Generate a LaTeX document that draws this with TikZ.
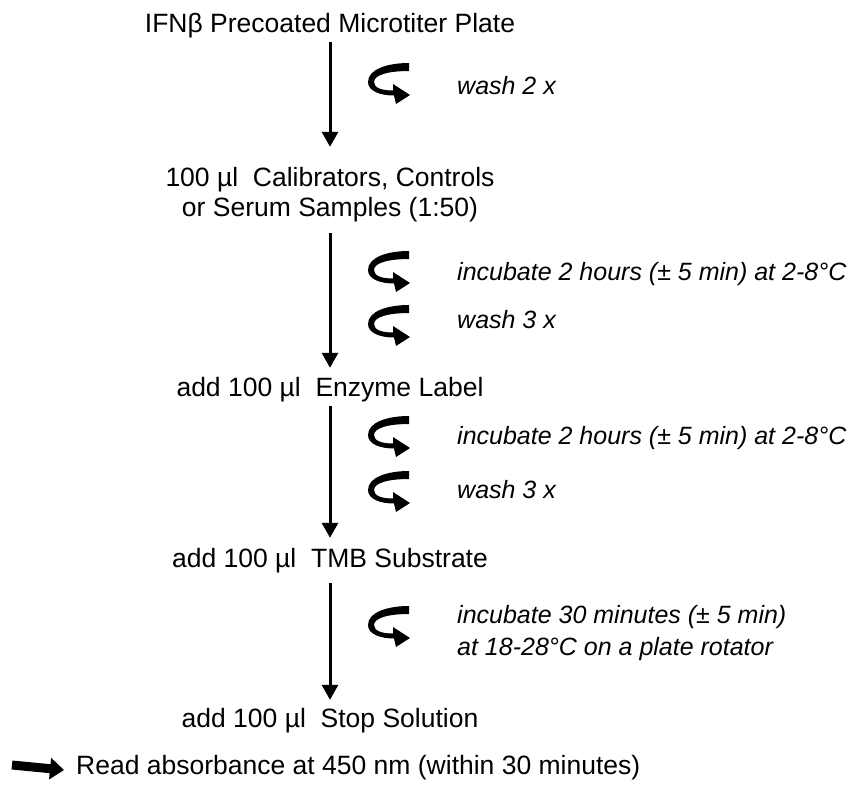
\documentclass[tikz,border=0pt]{standalone}
\usepackage{fontspec}
\setmainfont{Liberation Sans}
\usetikzlibrary{arrows.meta}
\tikzset{
  steplbl/.style={inner sep=0pt, text height=20pt, text depth=6pt, anchor=base,
    font=\fontsize{26.5}{30}\selectfont},
  notelbl/.style={inner sep=0pt, text height=19pt, text depth=6pt, anchor=base west,
    font=\fontsize{25}{29}\selectfont\itshape},
  flow/.style={line width=3pt, -{Triangle[length=15pt,width=16pt]}},
  readarrow/.style={line width=9pt, -{Triangle[length=14pt,width=21pt]}},
  % curled "process" arrow drawn beside each step: a tapered C ending in a head
  turn/.pic={
    \fill (21,20) .. controls (0,20) and (-20,14) .. (-20,1)
      .. controls (-20,-8) and (-8,-12.5) .. (6,-12.5)
      -- (8,-21) -- (22,-12) -- (5,-1) -- (5,-7.5)
      .. controls (-6,-7.5) and (-14,-5) .. (-14,1)
      .. controls (-14,8) and (0,12) .. (21,12) -- cycle;
  }
}
\begin{document}
\begin{tikzpicture}[x=1pt,y=1pt]
  \useasboundingbox (0,0) rectangle (859,-787);

  % main steps
  \node[steplbl] (plate) at (330,-32) {IFNβ Precoated Microtiter Plate};
  \node[steplbl] (calA)  at (330,-186) {100 µl\ \ Calibrators, Controls};
  \node[steplbl] (calB)  at (330,-216) {or Serum Samples (1:50)};
  \node[steplbl] (enz)   at (330,-396) {add 100 µl\ \ Enzyme Label};
  \node[steplbl] (tmb)   at (330,-567) {add 100 µl\ \ TMB Substrate};
  \node[steplbl] (stop)  at (330,-727) {add 100 µl\ \ Stop Solution};

  % flow arrows between the steps
  \draw[flow] ([yshift=-4pt]plate.south) -- ([yshift=19pt]calA.north);
  \draw[flow] ([yshift=-11pt]calB.south) -- ([yshift=8pt]enz.north);
  \draw[flow] ([yshift=-4pt]enz.south)   -- ([yshift=9pt]tmb.north);
  \draw[flow] ([yshift=-10pt]tmb.south)  -- ([yshift=7pt]stop.north);

  % treatments with their curled arrows
  \pic (t1) at (388,-83)  {turn};
  \node[notelbl] (w1) at (457,-94) {wash 2 x};

  \pic (t2) at (388,-271) {turn};
  \node[notelbl] (i1) at (457,-280) {incubate 2 hours (± 5 min) at 2-8°C};
  \pic (t3) at (388,-325) {turn};
  \node[notelbl] (w2) at (457,-328) {wash 3 x};

  \pic (t4) at (388,-436) {turn};
  \node[notelbl] (i2) at (457,-444) {incubate 2 hours (± 5 min) at 2-8°C};
  \pic (t5) at (388,-491) {turn};
  \node[notelbl] (w3) at (457,-498) {wash 3 x};

  \pic (t6) at (388,-626) {turn};
  \node[notelbl] (i3a) at (457,-623) {incubate 30 minutes (± 5 min)};
  \node[notelbl] (i3b) at (457,-655) {at 18-28°C on a plate rotator};

  % final reading
  \coordinate (rstart) at (12,-765);
  \node[steplbl, anchor=base west] (read) at (76,-774)
    {Read absorbance at 450 nm (within 30 minutes)};
  \draw[readarrow] (rstart) -- ([xshift=-12pt,yshift=-3pt]read.west);
\end{tikzpicture}
\end{document}
